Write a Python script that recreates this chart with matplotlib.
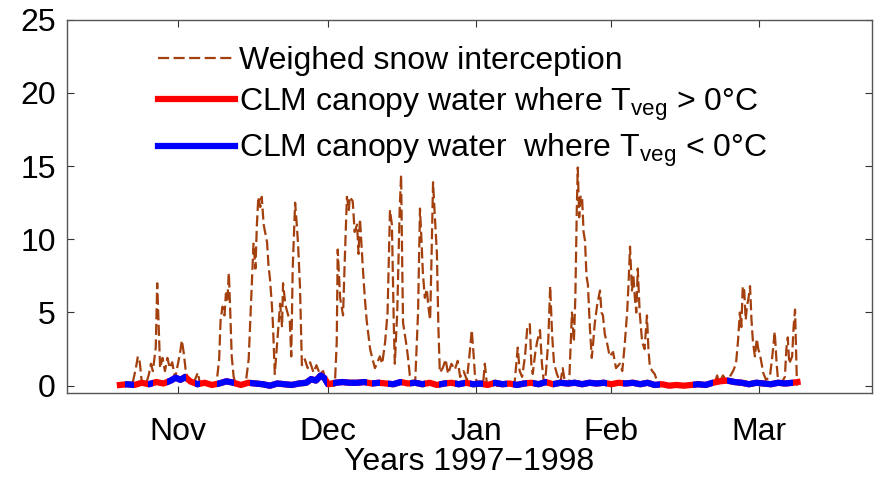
import numpy as np
import matplotlib
matplotlib.use('Agg')
import matplotlib.pyplot as plt
from matplotlib.path import Path
from matplotlib.patches import PathPatch

plt.rcParams['font.family'] = ['Liberation Sans', 'DejaVu Sans']
plt.rcParams['mathtext.fontset'] = 'custom'
plt.rcParams['mathtext.rm'] = 'Liberation Sans'
plt.rcParams['mathtext.it'] = 'Liberation Sans'

# time in days since 1 Oct 1997, weighed snow interception (mm)
snow_days = [19.0, 20.0, 21.5, 22.3, 22.7, 23.1, 23.5, 24.3, 25.0, 25.4, 25.8, 26.4, 26.7, 27.0, 27.3,
             27.8, 28.3, 28.8, 29.3, 29.8, 30.4, 31.0, 31.4, 31.8, 32.2, 32.6, 33.1, 34.0, 35.1, 35.5,
             36.6, 38.0, 39.0, 39.5, 39.8, 40.2, 40.6, 40.9, 41.2, 41.5, 41.8, 42.1, 42.5, 43.0, 44.0,
             45.0, 45.6, 46.0, 46.3, 46.6, 47.0, 47.3, 47.6, 48.0, 48.3, 48.7, 49.0, 49.4, 49.7, 50.0,
             50.4, 50.6, 51.0, 51.5, 52.1, 52.5, 52.7, 53.2, 53.6, 54.1, 54.4, 54.7, 55.2, 55.5, 55.8,
             56.2, 56.6, 57.2, 57.8, 58.3, 59.0, 59.6, 60.3, 61.0, 61.5, 62.5, 63.4, 63.8, 64.0, 64.5,
             65.1, 65.5, 65.9, 66.3, 66.5, 67.1, 67.5, 68.0, 68.3, 68.6, 69.2, 69.6, 70.0, 70.7, 71.2,
             71.7, 72.2, 72.7, 73.2, 73.8, 74.3, 74.8, 75.2, 75.6, 75.8, 76.3, 76.8, 77.1, 77.3, 77.5,
             78.1, 78.5, 78.9, 79.5, 80.0, 80.6, 81.0, 81.3, 81.6, 82.0, 82.4, 82.8, 83.1, 83.4, 83.7,
             84.0, 84.5, 84.8, 85.1, 85.7, 86.3, 86.8, 87.5, 88.2, 88.8, 89.3, 90.0, 90.7, 91.2, 91.7,
             92.1, 92.4, 93.4, 94.0, 94.4, 94.8, 95.5, 97.5, 99.6, 100.5, 101.2, 101.6, 102.1, 102.7, 103.2,
             103.7, 104.0, 104.3, 104.8, 105.2, 105.8, 106.2, 106.6, 107.0, 107.5, 107.9, 108.3, 108.7, 109.3, 110.0,
             110.5, 111.0, 111.8, 112.1, 112.4, 112.8, 113.1, 113.4, 113.6, 113.9, 114.2, 114.5, 114.8, 115.1, 115.4,
             115.7, 116.1, 116.5, 116.8, 117.1, 117.6, 118.2, 118.5, 118.8, 119.2, 119.6, 120.2, 120.9, 121.5, 122.3,
             122.8, 123.3, 123.8, 124.1, 124.4, 124.8, 125.1, 125.4, 125.7, 126.0, 126.4, 126.9, 127.4, 127.9, 128.2,
             128.5, 129.0, 129.5, 130.0, 130.6, 132.6, 135.0, 137.0, 139.0, 141.5, 142.0, 142.4, 142.8, 143.6, 144.2,
             145.0, 145.7, 146.3, 146.7, 147.1, 147.4, 147.7, 148.0, 148.3, 148.6, 148.9, 149.2, 149.5, 149.8, 150.2,
             150.6, 150.9, 151.2, 151.6, 151.9, 152.5, 153.3, 153.8, 154.3, 154.7, 155.0, 155.7, 156.4, 156.7, 157.0,
             157.3, 157.9, 158.2, 158.5, 158.9]
snow_vals = [0.0, 0.1, 0.0, 1.2, 2.0, 1.6, 0.3, 0.0, 0.8, 1.5, 1.0, 2.6, 7.0, 4.0, 1.2,
             1.9, 1.0, 1.9, 1.2, 1.6, 0.5, 1.5, 2.2, 3.1, 2.2, 1.0, 0.4, 0.0, 0.9, 0.2,
             0.0, 0.0, 0.3, 1.8, 4.5, 5.4, 4.8, 6.3, 5.8, 7.7, 5.0, 2.0, 0.6, 0.0, 0.0,
             0.2, 1.8, 5.0, 7.5, 9.7, 8.0, 11.0, 12.9, 12.2, 12.9, 11.0, 10.5, 9.8, 8.2, 7.3,
             5.5, 4.3, 0.8, 3.0, 5.6, 4.0, 7.0, 5.5, 5.0, 4.4, 2.0, 8.0, 12.5, 11.2, 9.7,
             6.8, 1.4, 1.8, 1.2, 1.6, 0.9, 1.4, 0.8, 1.0, 0.3, 0.0, 0.0, 3.0, 9.3, 6.0,
             4.8, 9.0, 12.9, 12.0, 12.9, 12.6, 10.5, 11.0, 9.0, 11.4, 8.0, 6.0, 4.4, 2.5, 1.8,
             1.2, 1.6, 2.0, 1.5, 3.0, 5.0, 12.0, 11.0, 4.0, 1.5, 5.0, 12.0, 14.4, 9.0, 4.3,
             3.0, 2.0, 0.7, 0.3, 0.2, 5.0, 12.1, 10.0, 7.7, 6.0, 6.6, 5.2, 4.5, 9.0, 13.9,
             12.0, 9.0, 4.0, 0.9, 1.2, 1.8, 0.8, 1.5, 1.1, 1.7, 0.6, 1.0, 0.4, 2.0, 3.8,
             2.0, 0.5, 0.0, 0.0, 1.5, 0.2, 0.0, 0.0, 0.0, 0.0, 2.6, 1.0, 0.6, 2.0, 4.1,
             4.2, 1.5, 0.8, 2.2, 3.0, 3.8, 1.5, 0.2, 0.8, 3.0, 6.8, 3.5, 1.5, 0.8, 0.2,
             1.2, 0.1, 0.0, 2.5, 5.0, 3.0, 6.0, 12.0, 14.9, 11.5, 13.0, 12.8, 10.5, 9.9, 7.5,
             6.9, 4.0, 1.9, 3.0, 4.2, 5.5, 6.5, 5.0, 4.8, 3.5, 3.0, 2.0, 2.3, 1.2, 1.5,
             1.0, 2.8, 5.0, 7.0, 9.5, 6.5, 7.5, 6.0, 5.0, 8.0, 5.0, 3.0, 2.5, 4.8, 2.5,
             1.3, 1.0, 0.8, 0.3, 0.0, 0.0, 0.0, 0.1, 0.0, 0.1, 0.3, 0.7, 0.2, 0.7, 0.4,
             0.6, 1.0, 1.5, 3.0, 5.0, 4.0, 6.8, 6.5, 4.5, 5.5, 6.0, 6.8, 4.5, 3.0, 2.0,
             3.2, 2.5, 2.2, 1.5, 0.9, 0.4, 0.6, 2.0, 3.7, 1.5, 0.3, 0.2, 0.6, 2.5, 3.3,
             1.5, 2.0, 4.0, 5.2, 0.0]

# CLM canopy water (mm)
canopy_days = [19, 20.5, 22, 23.5, 25, 26.5, 28, 29.5, 30.5, 31.5, 32.5, 33.5, 35, 36.5, 38,
               39.5, 41, 42.5, 44, 45.5, 47, 48.5, 50, 51.5, 53, 54.5, 56, 57.5, 58.5, 59.5,
               60.5, 61.3, 62, 63.5, 65, 66.5, 68, 69.5, 71, 72.5, 74, 75.5, 77, 78.5, 80,
               81.5, 83, 84.5, 86, 87.5, 89, 90.5, 92, 93.5, 95, 96.5, 98, 99.5, 101, 102.5,
               104, 105.5, 107, 108.5, 110, 111.5, 113, 114.5, 116, 117.5, 119, 120.5, 122, 123.5,
               125, 126.5, 128, 129.5, 131, 132.5, 134, 135.5, 137, 138.5, 140, 141.5, 143, 144.5,
               146, 147.5, 149, 150.5, 152, 153.5, 155, 156.5, 158, 159]
canopy_vals = [0.05, 0.1, 0.05, 0.2, 0.1, 0.25, 0.15, 0.35, 0.55, 0.4, 0.6, 0.3, 0.1, 0.2, 0.05,
               0.15, 0.3, 0.2, 0.05, 0.2, 0.15, 0.1, 0.0, 0.15, 0.1, 0.05, 0.15, 0.2, 0.45, 0.35,
               0.7, 0.5, 0.1, 0.2, 0.25, 0.2, 0.2, 0.25, 0.15, 0.2, 0.15, 0.1, 0.25, 0.15, 0.2,
               0.1, 0.2, 0.05, 0.15, 0.2, 0.1, 0.2, 0.1, 0.15, 0.05, 0.2, 0.1, 0.15, 0.05, 0.15,
               0.2, 0.1, 0.25, 0.1, 0.2, 0.15, 0.2, 0.1, 0.2, 0.15, 0.2, 0.1, 0.2, 0.15,
               0.2, 0.1, 0.2, 0.05, 0.1, 0.0, 0.05, 0.0, 0.05, 0.1, 0.05, 0.2, 0.3, 0.35,
               0.25, 0.2, 0.1, 0.2, 0.15, 0.1, 0.2, 0.15, 0.2, 0.25]

# periods with T_veg < 0 C (days)
frozen_periods = [(20, 22), (24.8, 25.8), (28.7, 32.6), (34.5, 35.5), (39, 42.6), (45.9, 61.8),
                  (63, 70), (71, 72.7), (74.4, 77.3), (79, 82), (85, 86.6), (88.2, 90.3),
                  (91.3, 94), (96.1, 99), (100.2, 103.1), (104.3, 107.2), (108.5, 119.6),
                  (122.9, 130.6), (137.4, 141.5), (144.4, 158)]

month_ticks = [31, 62, 92.6, 120.5, 151]
month_labels = ['Nov', 'Dec', 'Jan', 'Feb', 'Mar']

brown = '#A3400E'
fs = 23

fig = plt.figure(figsize=(8.85, 4.79), dpi=100)
ax = fig.add_axes([0.0757, 0.1795, 0.9096, 0.7795])

ax.plot(snow_days, snow_vals, color=brown, lw=1.6, ls=(0, (5, 2)),
        label='Weighed snow interception')
ax.plot(canopy_days, canopy_vals, color='red', lw=4.5,
        label=r'CLM canopy water where T$_{\mathregular{veg}}$ > 0°C')
blue_line, = ax.plot(canopy_days, canopy_vals, color='blue', lw=4.5,
                     label=r'CLM canopy water  where T$_{\mathregular{veg}}$ < 0°C')

# clip the blue line to the frozen periods
rects = [Path([(a, -5), (b, -5), (b, 30), (a, 30), (a, -5)], closed=True) for a, b in frozen_periods]
clip = PathPatch(Path.make_compound_path(*rects), transform=ax.transData, fc='none', ec='none')
ax.add_patch(clip)
blue_line.set_clip_path(clip)

ax.set_xlim(8.06, 174.4)
ax.set_ylim(-0.5, 25)
ax.set_yticks([0, 5, 10, 15, 20, 25])
ax.set_xticks(month_ticks)
ax.set_xticklabels(month_labels)
ax.tick_params(direction='in', top=True, right=True, length=5, width=0.8,
               labelsize=fs, colors='#333333', labelcolor='black')
ax.tick_params(axis='x', pad=17)
ax.tick_params(axis='y', pad=8)
for s in ax.spines.values():
    s.set_color('#555555')
    s.set_linewidth(1.0)
ax.set_xlabel('Years 1997\u22121998', fontsize=fs, labelpad=0)

leg = ax.legend(loc='upper left', bbox_to_anchor=(0.113, 0.93), frameon=False,
                fontsize=fs, handlelength=2.4, handletextpad=0.15, labelspacing=0.3,
                borderpad=0, borderaxespad=0)

fig.savefig('out.png', dpi=100)
